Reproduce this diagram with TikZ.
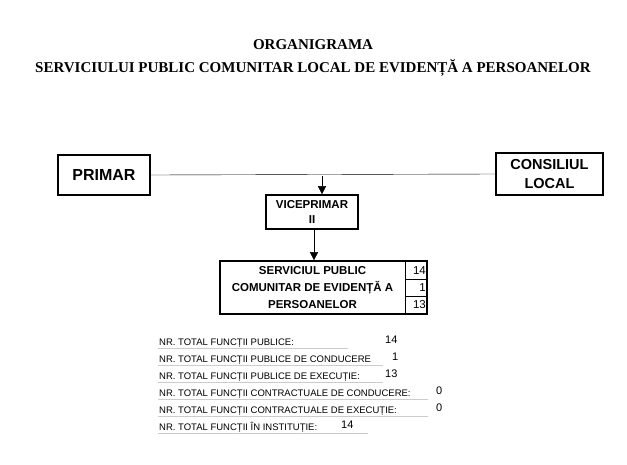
\documentclass[tikz,border=0pt]{standalone}
\usepackage{fontspec}
\setmainfont{Liberation Serif}
\setsansfont{Liberation Sans}
\usetikzlibrary{positioning, arrows.meta}

\tikzset{
  unit/.style={draw, line width=1.6pt, font=\sffamily\bfseries, align=center, inner sep=0pt},
  stat/.style={anchor=base west, font=\sffamily\fontsize{9.5}{10}\selectfont, inner sep=1pt},
  val/.style={anchor=base west, font=\sffamily\fontsize{11}{12}\selectfont, inner sep=0pt},
  cnt/.style={anchor=east, font=\sffamily\fontsize{11.5}{12}\selectfont, inner sep=1pt},
  link/.style={-{Triangle[length=8pt,width=8pt]}}
}

\begin{document}
\begin{tikzpicture}[x=1pt, y=-1pt]
\useasboundingbox[fill=white] (0,0) rectangle (627,464);

% titlu
\node[font=\bfseries\fontsize{15}{17}\selectfont] (title1) at (313,45) {ORGANIGRAMA};
\node[font=\bfseries\fontsize{15}{17}\selectfont] (title2) at (313,68) {SERVICIULUI PUBLIC COMUNITAR LOCAL DE EVIDENȚĂ A PERSOANELOR};

% conducere
\node[unit, minimum width=92pt, minimum height=40pt, font=\sffamily\bfseries\fontsize{16}{18}\selectfont] (primar) at (104,175) {PRIMAR};
\node[unit, minimum width=107pt, minimum height=42pt, font=\sffamily\bfseries\fontsize{14.5}{19}\selectfont] (consiliu) at (549.5,174) {CONSILIUL\\LOCAL};
\draw (primar.east) -- (consiliu.west);
\coordinate (split) at (322,176);

\node[unit, minimum width=92pt, minimum height=34pt, font=\sffamily\bfseries\fontsize{11.5}{15}\selectfont] (vice) at (312,212) {VICEPRIMAR\\II};
\draw[link] (split) -- (split |- vice.north);

% serviciu
\node[unit, minimum width=207pt, minimum height=53pt, font=\sffamily\bfseries\fontsize{11.5}{17}\selectfont] (serv) at (323.5,287.5) {\hspace*{-22pt}SERVICIUL PUBLIC\\\hspace*{-22pt}COMUNITAR DE EVIDENȚĂ A\\\hspace*{-22pt}PERSOANELOR};
\coordinate (vbot) at (314,229);
\draw[link] (vbot) -- (vbot |- serv.north);
\draw[thick] (405,261) -- (405,314);
\draw[thick] (405,279) -- (427,279);
\draw[thick] (405,296) -- (427,296);
\node[cnt] (n1) at (427,271) {14};
\node[cnt] (n2) at (427,288) {1};
\node[cnt] (n3) at (427,305) {13};

% totaluri
\foreach \y/\t/\vx/\v/\lw in {
  345/NR. TOTAL FUNCȚII PUBLICE:/385/14/190,
  362/NR. TOTAL FUNCȚII PUBLICE DE CONDUCERE/392/1/225,
  379/NR. TOTAL FUNCȚII PUBLICE DE EXECUȚIE:/385/13/225,
  396/NR. TOTAL FUNCȚII CONTRACTUALE DE CONDUCERE:/436/0/270,
  413/NR. TOTAL FUNCȚII CONTRACTUALE DE EXECUȚIE:/436/0/270,
  430/NR. TOTAL FUNCȚII ÎN INSTITUȚIE:/341/14/210} {
  \draw[gray!40] (158,\y+3) -- ++(\lw,0);
  \node[stat] at (158,\y) {\t};
  \node[val] at (\vx,\y-2) {\v};
}
\end{tikzpicture}
\end{document}
